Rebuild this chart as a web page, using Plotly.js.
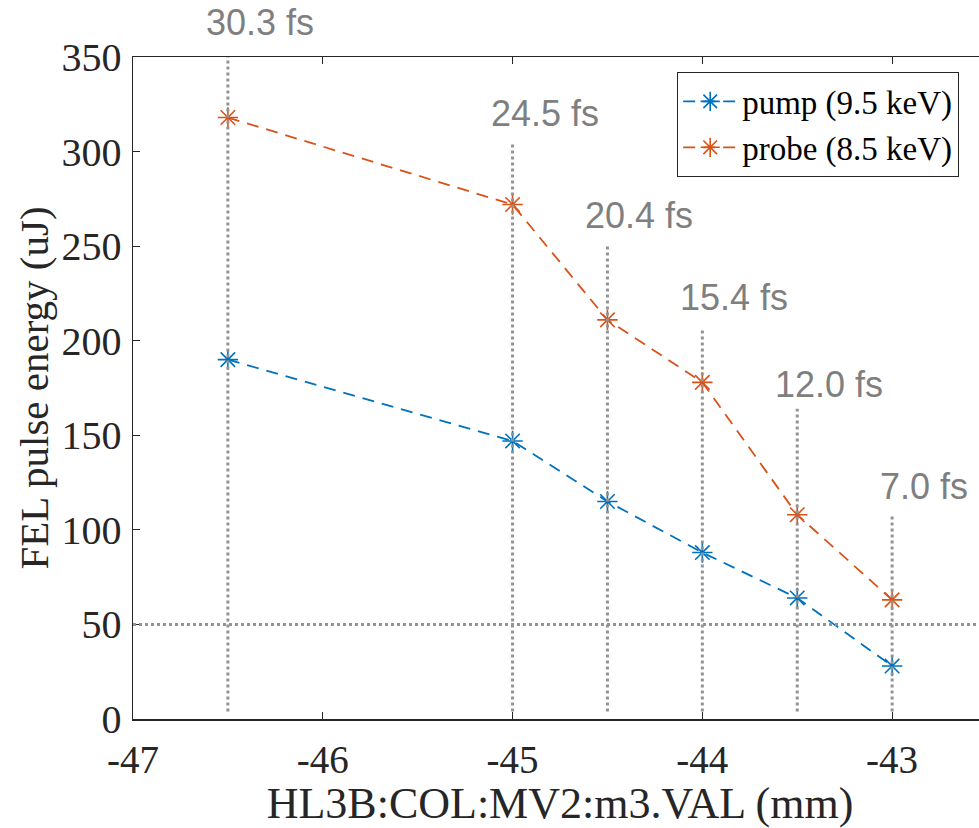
<!DOCTYPE html>
<html>
<head>
<meta charset="utf-8">
<script src="https://cdn.plot.ly/plotly-3.0.1.min.js"></script>
<style>
html,body{margin:0;padding:0;overflow:hidden;background:#fff;}
#chart{width:1000px;height:828px;}
</style>
</head>
<body>
<div id="chart"></div>
<script>
// Data
const positions = [-46.5, -45, -44.5, -44, -43.5, -43];
const pumpEnergy = [190, 147, 115, 88, 64, 28];
const probeEnergy = [318, 272, 211, 178, 108, 63];
const pulseLabels = ['30.3 fs', '24.5 fs', '20.4 fs', '15.4 fs', '12.0 fs', '7.0 fs'];
const markerTop = [352, 304, 250, 207, 164, 107];
const markerBottom = [4, 4, 4, 4, 4, 4];
const labelY = [368, 320, 266, 223, 177, 123];
const thresholdY = 50;
const xRange = [-47, -42.5];
const yRange = [0, 350];
const xTickVals = [-47, -46, -45, -44, -43];
const xTickText = ['-47', '-46', '-45', '-44', '-43'];
const yTickVals = [0, 50, 100, 150, 200, 250, 300, 350];

const serif = 'Liberation Serif, Times New Roman, serif';
const gray = '#949494';

const traces = [
  {
    x: positions, y: pumpEnergy, name: 'pump (9.5 keV)', mode: 'lines+markers',
    line: {color: '#0072BD', dash: '12px,8px', width: 1.8},
    marker: {symbol: 'asterisk-open', size: 17, line: {color: '#0072BD', width: 1.6}}
  },
  {
    x: positions, y: probeEnergy, name: 'probe (8.5 keV)', mode: 'lines+markers',
    line: {color: '#D95319', dash: '12px,8px', width: 1.8},
    marker: {symbol: 'asterisk-open', size: 17, line: {color: '#D95319', width: 1.6}}
  }
];

positions.forEach((p, i) => {
  traces.push({
    x: [p, p], y: [markerBottom[i], markerTop[i]], mode: 'lines', showlegend: false,
    hoverinfo: 'skip', cliponaxis: false,
    line: {color: gray, width: 3, dash: '3px,3px'}
  });
});

const annotations = positions.map((p, i) => ({
  x: p, xref: 'x', y: labelY[i] / yRange[1], yref: 'y domain',
  xanchor: 'center', yanchor: 'middle',
  text: pulseLabels[i], showarrow: false, xshift: 32,
  font: {family: 'Liberation Sans, Arial, sans-serif', size: 36, color: '#7f7f7f'}
}));

const layout = {
  width: 1000, height: 828,
  margin: {l: 133, r: 13, t: 57, b: 109},
  paper_bgcolor: '#fff', plot_bgcolor: '#fff',
  font: {family: serif, color: '#262626'},
  showlegend: true,
  legend: {
    x: 0.637, y: 0.977, xanchor: 'left', yanchor: 'top',
    bgcolor: '#fff', bordercolor: '#262626', borderwidth: 1.2,
    font: {family: serif, size: 33, color: '#000'},
    tracegroupgap: 0, itemwidth: 54
  },
  xaxis: {
    range: xRange, tickvals: xTickVals, ticktext: xTickText,
    showgrid: false, zeroline: false, showline: true, linecolor: '#262626', linewidth: 1.5,
    mirror: 'ticks', ticks: 'inside', ticklen: 7, tickwidth: 1.2, tickcolor: '#262626',
    ticklabelstandoff: 6,
    tickfont: {family: serif, size: 39, color: '#262626'},
    title: {text: 'HL3B:COL:MV2:m3.VAL (mm)', font: {family: serif, size: 44, color: '#262626'}, standoff: 10}
  },
  yaxis: {
    range: yRange, tickvals: yTickVals,
    showgrid: false, zeroline: false, showline: true, linecolor: '#262626', linewidth: 1.5,
    mirror: 'ticks', ticks: 'inside', ticklen: 7, tickwidth: 1.2, tickcolor: '#262626',
    ticklabelstandoff: 2,
    tickfont: {family: serif, size: 40, color: '#262626'},
    title: {text: 'FEL pulse energy (uJ)', font: {family: serif, size: 41, color: '#262626'}, standoff: 0}
  },
  shapes: [{
    type: 'line', xref: 'paper', x0: 0, x1: 1, yref: 'y', y0: thresholdY, y1: thresholdY,
    line: {color: gray, width: 3, dash: '3px,3px'}
  }],
  annotations: annotations
};

Plotly.newPlot('chart', traces, layout, {displayModeBar: false, staticPlot: true});
</script>
</body>
</html>
